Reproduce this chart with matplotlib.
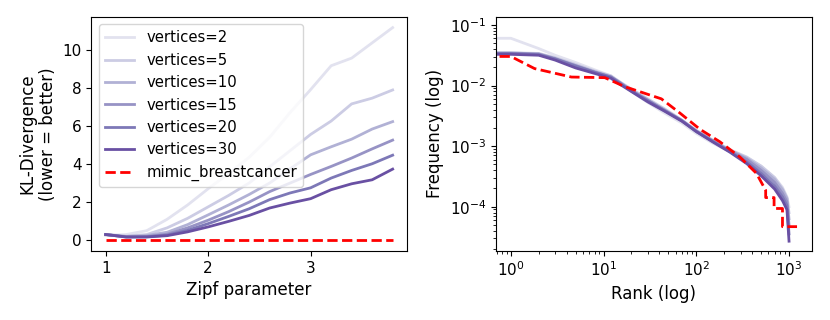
import numpy as np
import matplotlib
matplotlib.use("Agg")
import matplotlib.pyplot as plt

# left panel: KL divergence vs zipf parameter
zipf = [1.0, 1.2, 1.4, 1.6, 1.8, 2.0, 2.2, 2.4, 2.6, 2.8, 3.0, 3.2, 3.4, 3.6, 3.8]
vertices = [2, 5, 10, 15, 20, 30]
kl_v2 = [0.25, 0.30, 0.50, 1.10, 1.85, 2.70, 3.50, 4.35, 5.40, 6.70, 7.90, 9.15, 9.55, 10.35, 11.15]
kl_v5 = [0.30, 0.22, 0.30, 0.65, 1.15, 1.75, 2.35, 3.00, 3.85, 4.70, 5.55, 6.25, 7.15, 7.45, 7.88]
kl_v10 = [0.30, 0.20, 0.25, 0.42, 0.82, 1.33, 1.85, 2.40, 3.00, 3.75, 4.48, 4.90, 5.30, 5.83, 6.22]
kl_v15 = [0.30, 0.18, 0.20, 0.32, 0.65, 1.05, 1.50, 2.00, 2.55, 3.00, 3.45, 3.87, 4.31, 4.79, 5.25]
kl_v20 = [0.30, 0.17, 0.18, 0.27, 0.52, 0.87, 1.25, 1.65, 2.13, 2.48, 2.75, 3.26, 3.66, 4.01, 4.46]
kl_v30 = [0.30, 0.17, 0.17, 0.24, 0.44, 0.70, 0.99, 1.30, 1.69, 1.95, 2.18, 2.65, 2.96, 3.17, 3.73]
kl_real = [0.0] * len(zipf)
kl_all = [kl_v2, kl_v5, kl_v10, kl_v15, kl_v20, kl_v30]

# right panel: rank / frequency (log10 of frequency)
ranks = [0, 1, 2, 3, 5, 8, 12, 15, 20, 30, 45, 70, 100, 150, 230, 350, 500, 700, 850, 950, 1000]
logf_v2 = [-1.22, -1.22, -1.39, -1.50, -1.62, -1.74, -1.84, -1.96, -2.10, -2.28, -2.45, -2.62, -2.79, -2.95, -3.09, -3.19, -3.33, -3.52, -3.68, -3.84, -4.00]
logf_v5 = [-1.46, -1.46, -1.47, -1.54, -1.65, -1.76, -1.84, -1.94, -2.06, -2.22, -2.38, -2.57, -2.74, -2.90, -3.06, -3.18, -3.33, -3.52, -3.70, -3.85, -4.10]
logf_v10 = [-1.46, -1.46, -1.48, -1.55, -1.67, -1.77, -1.85, -1.96, -2.09, -2.26, -2.41, -2.58, -2.76, -2.92, -3.07, -3.20, -3.36, -3.55, -3.72, -3.87, -4.20]
logf_v15 = [-1.47, -1.47, -1.48, -1.56, -1.67, -1.78, -1.86, -1.95, -2.08, -2.24, -2.40, -2.58, -2.75, -2.91, -3.08, -3.22, -3.40, -3.60, -3.78, -3.92, -4.30]
logf_v20 = [-1.47, -1.47, -1.49, -1.56, -1.68, -1.78, -1.86, -1.96, -2.09, -2.25, -2.41, -2.58, -2.76, -2.92, -3.09, -3.26, -3.45, -3.66, -3.84, -3.98, -4.45]
logf_v30 = [-1.485, -1.485, -1.50, -1.58, -1.71, -1.80, -1.88, -1.98, -2.10, -2.27, -2.42, -2.59, -2.76, -2.93, -3.10, -3.29, -3.49, -3.71, -3.90, -4.05, -4.57]
logf_all = [logf_v2, logf_v5, logf_v10, logf_v15, logf_v20, logf_v30]

ranks_real = [0, 1, 1.8, 4.5, 10.3, 17, 42, 66, 109, 180, 295, 445, 560, 560, 690, 690, 850, 850, 1220]
logf_real = [-1.52, -1.52, -1.72, -1.86, -1.87, -2.02, -2.22, -2.45, -2.72, -2.93, -3.18, -3.45, -3.73, -3.85, -3.85, -4.03, -4.03, -4.33, -4.33]

colors = plt.cm.Purples(np.linspace(0.2, 0.75, len(vertices)))

plt.rcParams["xtick.labelsize"] = 11
plt.rcParams["ytick.labelsize"] = 11

fig, (ax1, ax2) = plt.subplots(1, 2, figsize=(8.3, 3.2), dpi=100)
fig.subplots_adjust(left=0.11, right=0.978, bottom=0.216, top=0.947, wspace=0.282)

for v, kl, c in zip(vertices, kl_all, colors):
    ax1.plot(zipf, kl, color=c, lw=2, label=f"vertices={v}")
ax1.plot(zipf, kl_real, "r--", lw=2, label="mimic_breastcancer")
ax1.set_xticks([1, 2, 3])
ax1.set_xlabel("Zipf parameter", fontsize=12)
ax1.set_ylabel("KL-Divergence\n(lower = better)", fontsize=12)
ax1.legend(loc="upper left", fontsize=10.7)

for lf, c in zip(logf_all, colors):
    ax2.plot(ranks, 10 ** np.array(lf), color=c, lw=2)
ax2.plot(ranks_real, 10 ** np.array(logf_real), "r--", lw=2)
ax2.set_xscale("log")
ax2.set_yscale("log")
ax2.set_xlim(10 ** -0.16, 10 ** 3.245)
ax2.set_ylim(10 ** -4.73, 10 ** -0.868)
ax2.set_xlabel("Rank (log)", fontsize=12)
ax2.set_ylabel("Frequency (log)", fontsize=12)

fig.savefig("out.png", dpi=100)
